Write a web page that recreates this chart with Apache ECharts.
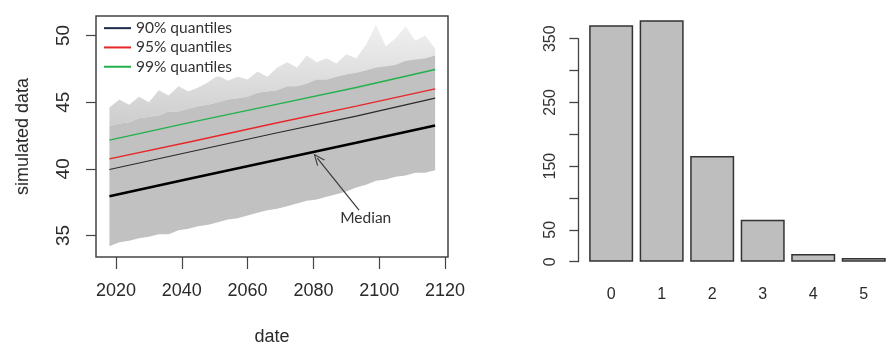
<!DOCTYPE html>
<html>
<head>
<meta charset="utf-8">
<script src="https://cdn.jsdelivr.net/npm/echarts@6/dist/echarts.min.js"></script>
<style>
html,body{margin:0;padding:0;background:#fff;}
#chart{width:889px;height:351px;}
</style>
</head>
<body>
<div id="chart"></div>
<script>
// ---------- Left panel: simulated data ----------
const cloudYears = [2018,2021,2024,2027,2030,2033,2036,2039,2042,2045,2048,2051,2054,2057,2060,2063,2066,2069,2072,2075,2078,2081,2084,2087,2090,2093,2096,2099,2102,2105,2108,2111,2114,2117];
const cloudLow = [34.2,34.5,34.6,34.8,34.9,35.1,35.1,35.4,35.5,35.7,35.8,36.0,36.2,36.3,36.5,36.7,36.9,37.0,37.2,37.4,37.6,37.7,37.9,38.1,38.3,38.6,38.8,39.1,39.2,39.4,39.5,39.7,39.7,39.9];
const cloudDenseTop = [43.2,43.4,43.5,43.8,43.9,44.0,44.3,44.3,44.5,44.7,44.8,45.0,45.2,45.3,45.4,45.7,45.8,45.9,46.2,46.2,46.4,46.7,46.7,46.9,47.1,47.2,47.4,47.6,47.7,47.8,48.1,48.2,48.3,48.5];
const cloudSpikeTop = [44.6,45.2,44.8,45.4,45.0,45.9,45.5,46.2,45.8,46.1,46.5,47.0,46.6,46.9,46.7,47.3,46.9,47.6,48.0,47.6,48.5,48.0,48.3,47.9,48.6,48.3,49.3,50.8,49.2,49.8,50.7,49.6,50.0,49.0];

const quantYears = [2018, 2043, 2068, 2093, 2117];
const medianVals = [37.95, 39.30, 40.62, 41.95, 43.25];
const q90Vals = [39.95, 41.30, 42.65, 43.95, 45.30];
const q95Vals = [40.75, 42.05, 43.40, 44.70, 46.00];
const q99Vals = [42.15, 43.50, 44.80, 46.10, 47.45];

const leftXTicks = [2020, 2040, 2060, 2080, 2100, 2120];
const leftYTicks = [35, 40, 45, 50];

// ---------- Right panel: bar chart ----------
const barCategories = ['0', '1', '2', '3', '4', '5'];
const barCounts = [371, 379, 166, 66, 12, 6];
const rightYLabelValues = [0, 50, 150, 250, 350];

const pair = (xs, ys) => xs.map((x, i) => [x, ys[i]]);
const TXT = '#2a2a2a';
const AXC = '#444';

const chart = echarts.init(document.getElementById('chart'), null, {renderer: 'canvas'});

const arrowPath = 'path://M5,0 L10,10 L8.8,10 L5,2.4 L1.2,10 L0,10 Z';

function renderCloud(params, api) {
  if (params.dataIndex !== 0) return null;
  const low = cloudYears.map((y, i) => api.coord([y, cloudLow[i]]));
  const dense = cloudYears.map((y, i) => api.coord([y, cloudDenseTop[i]]));
  const spike = cloudYears.map((y, i) => api.coord([y, cloudSpikeTop[i]]));
  const spikeTopPx = Math.min.apply(null, spike.map(p => p[1]));
  const denseBotPx = Math.max.apply(null, dense.map(p => p[1]));
  return {
    type: 'group',
    children: [
      {
        type: 'polygon',
        shape: {points: spike.concat(dense.slice().reverse())},
        style: {fill: new echarts.graphic.LinearGradient(0, spikeTopPx, 0, denseBotPx, [
          {offset: 0, color: '#f0f0f0'}, {offset: 1, color: '#cdcdcd'}
        ], true)}
      },
      {
        type: 'polygon',
        shape: {points: dense.concat(low.slice().reverse())},
        style: {fill: '#c1c1c1'}
      }
    ]
  };
}

const option = {
  animation: false,
  backgroundColor: '#fff',
  legend: {
    left: 104, top: 18.5, orient: 'vertical', padding: 0, itemGap: 0,
    itemWidth: 27, itemHeight: 2, icon: 'rect',
    backgroundColor: '#fff',
    selectedMode: false,
    textStyle: {fontFamily: 'Lato', fontSize: 15.5, color: '#333', lineHeight: 19.3},
    data: [
      {name: '90% quantiles', itemStyle: {color: '#1f2a48'}},
      {name: '95% quantiles', itemStyle: {color: '#e8262a'}},
      {name: '99% quantiles', itemStyle: {color: '#22b14c'}}
    ]
  },
  grid: [
    {left: 96, top: 16, width: 352, height: 247, show: true, borderColor: '#444', borderWidth: 1.5, backgroundColor: 'transparent'},
    {left: 585.9, top: 38.7, width: 316.8, height: 223}
  ],
  xAxis: [
    {
      gridIndex: 0, type: 'value', min: 2013.92, max: 2120.91,
      name: 'date', nameLocation: 'middle', nameGap: 71,
      nameTextStyle: {fontFamily: 'Liberation Sans', fontSize: 18, color: TXT},
      axisLine: {show: false},
      axisTick: {show: true, length: 12, lineStyle: {color: AXC, width: 1.2}, customValues: leftXTicks},
      axisLabel: {fontFamily: 'Liberation Sans', fontSize: 18, color: TXT, margin: 25, customValues: leftXTicks, formatter: v => String(v)},
      splitLine: {show: false}
    },
    {
      gridIndex: 1, type: 'category', data: barCategories,
      axisLine: {show: false}, axisTick: {show: false},
      axisLabel: {fontFamily: 'Liberation Sans', fontSize: 16, color: TXT, margin: 25},
      splitLine: {show: false}
    }
  ],
  yAxis: [
    {
      gridIndex: 0, type: 'value', min: 33.39, max: 51.46,
      name: 'simulated data', nameLocation: 'middle', nameGap: 64,
      nameTextStyle: {fontFamily: 'Liberation Sans', fontSize: 18, color: TXT},
      axisLine: {show: false},
      axisTick: {show: true, length: 10, lineStyle: {color: AXC, width: 1.2}, customValues: leftYTicks},
      axisLabel: {fontFamily: 'Liberation Sans', fontSize: 19, color: TXT, margin: 23, rotate: 90, customValues: leftYTicks},
      splitLine: {show: false}
    },
    {
      gridIndex: 1, type: 'value', min: 0, max: 350, interval: 50, offset: 7.6,
      axisLine: {show: true, lineStyle: {color: AXC, width: 1.3}},
      axisTick: {show: true, length: 9, lineStyle: {color: AXC, width: 1.3}},
      axisLabel: {fontFamily: 'Liberation Sans', fontSize: 16, color: '#333', margin: 20, rotate: 90, customValues: rightYLabelValues},
      splitLine: {show: false}
    }
  ],
  series: [
    {
      name: 'cloud', type: 'custom', xAxisIndex: 0, yAxisIndex: 0,
      data: pair(cloudYears, cloudLow), renderItem: renderCloud, silent: true, clip: true, z: 1
    },
    {
      name: '90% quantiles', type: 'line', xAxisIndex: 0, yAxisIndex: 0,
      data: pair(quantYears, q90Vals), symbol: 'none', color: '#1f2a48',
      lineStyle: {color: '#2a2a2a', width: 1.1}, z: 3
    },
    {
      name: '95% quantiles', type: 'line', xAxisIndex: 0, yAxisIndex: 0,
      data: pair(quantYears, q95Vals), symbol: 'none', color: '#e8262a',
      lineStyle: {color: '#e8262a', width: 1.4}, z: 3
    },
    {
      name: '99% quantiles', type: 'line', xAxisIndex: 0, yAxisIndex: 0,
      data: pair(quantYears, q99Vals), symbol: 'none', color: '#22b14c',
      lineStyle: {color: '#22b14c', width: 1.4}, z: 3
    },
    {
      name: 'Median', type: 'line', xAxisIndex: 0, yAxisIndex: 0,
      data: pair(quantYears, medianVals), symbol: 'none', color: '#000',
      lineStyle: {color: '#000', width: 2.6}, z: 4,
      markLine: {
        silent: true, animation: false,
        label: {show: false},
        lineStyle: {color: '#3a3a3a', width: 1.2, type: 'solid'},
        data: [[
          {coord: [2093.86, 36.90], symbol: 'none'},
          {coord: [2081.19, 40.80], symbol: arrowPath, symbolSize: [10, 12]}
        ]]
      },
      markPoint: {
        silent: true, animation: false,
        data: [{
          coord: [2095.9, 36.34], symbol: 'circle', symbolSize: 0,
          label: {show: true, position: 'inside', formatter: 'Median', fontFamily: 'Lato', fontSize: 15.5, color: '#333'}
        }]
      }
    },
    {
      name: 'counts', type: 'bar', xAxisIndex: 1, yAxisIndex: 1,
      data: barCounts, barWidth: 44, clip: false,
      itemStyle: {color: '#bebebe', borderColor: '#333', borderWidth: 1.5}
    }
  ]
};
chart.setOption(option);
</script>
</body>
</html>
